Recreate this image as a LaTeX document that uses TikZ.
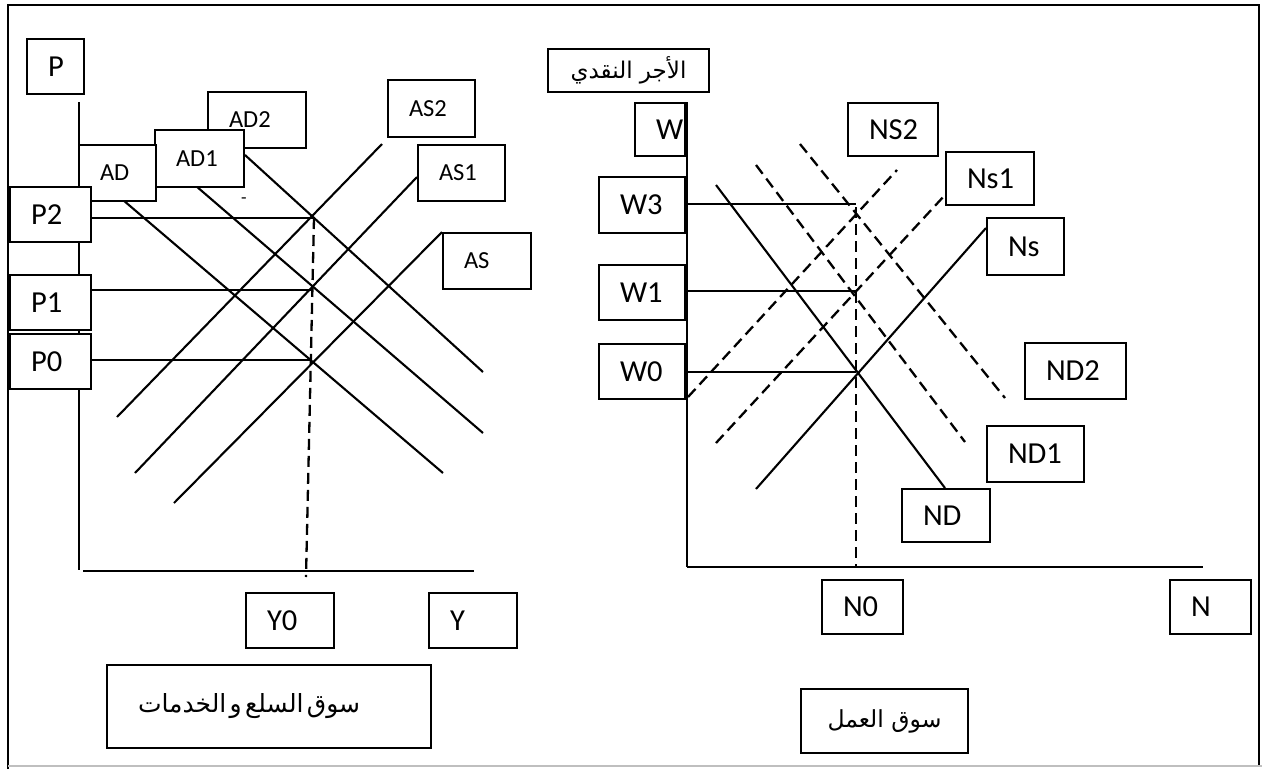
\documentclass[tikz,border=0pt]{standalone}
\usepackage{fontspec}
\setmainfont{Carlito}
\newfontfamily\arabicfont[Script=Arabic]{DejaVu Sans}
\TeXXeTstate=1
\tikzset{
 ln/.style={line width=2.1pt},
 dsh/.style={line width=2.3pt, dash pattern=on 11pt off 6pt},
 frame/.style={line width=1.8pt},
 box/.style={draw, fill=white, line width=2pt, inner xsep=21pt, inner ysep=0pt, align=left, anchor=north west},
 abox/.style={draw, fill=white, line width=2pt, inner ysep=0pt, anchor=north west},
 big/.style={font=\fontsize{30.5}{32}\selectfont},
 sml/.style={font=\fontsize{24.5}{26}\selectfont},
}
\newcommand\tbox[7]{%
 \pgfmathsetmacro\myw{#5-#3}\pgfmathsetmacro\myh{#6-#4}\pgfmathsetmacro\mytw{#5-#3-42}%
 \node[box,#1,minimum width=\myw pt,minimum height=\myh pt,text width=\mytw pt] (#2) at (#3,#4) {#7};}
\begin{document}
\begin{tikzpicture}[x=1pt,y=-1pt]
\useasboundingbox (0,0) rectangle (1262,769);
% outer frame
\coordinate (f1) at (8,769); \coordinate (f2) at (8,5); \coordinate (f3) at (1259,5); \coordinate (f4) at (1259,766);
\coordinate (g1) at (8,766); \coordinate (g2) at (1262,766);
\draw[frame] (f1) -- (f2) -- (f3) -- (f4);
\draw[line width=1.6pt, black!25] (g1) -- (g2);

% ---------- left market ----------
\coordinate (yT) at (79,102); \coordinate (yB) at (79,570);
\coordinate (xL) at (83,571); \coordinate (xR) at (474,571);
\draw[ln] (yT) -- (yB);
\draw[ln] (xL) -- (xR);
% demand
\coordinate (ad0a) at (123,200); \coordinate (ad0b) at (443,473);
\coordinate (ad1a) at (196,186); \coordinate (ad1b) at (483,433);
\coordinate (ad2a) at (245,155); \coordinate (ad2b) at (483,372);
\draw[ln] (ad0a) -- (ad0b);
\draw[ln] (ad1a) -- (ad1b);
\draw[ln] (ad2a) -- (ad2b);
% supply
\coordinate (as0a) at (174,503); \coordinate (as0b) at (442,232);
\coordinate (as1a) at (135,473); \coordinate (as1b) at (417,177);
\coordinate (as2a) at (117,417); \coordinate (as2b) at (382,144);
\draw[ln] (as0a) -- (as0b);
\draw[ln] (as1a) -- (as1b);
\draw[ln] (as2a) -- (as2b);
% price levels
\coordinate (e2) at (314,218); \coordinate (e1) at (313,290); \coordinate (e0) at (312,360);
\coordinate (yd) at (306,577);
\draw[ln] (90,218) -- (e2);
\draw[ln] (90,290) -- (e1);
\draw[ln] (90,360) -- (e0);
\draw[dsh] (e2) -- (yd);
\node[font=\fontsize{18}{18}\selectfont] (dash) at (244,201) {-};

\tbox{big}{P}{26}{38}{83}{93}{P}
\tbox{sml}{AD2}{207}{91}{305}{147}{AD2}
\tbox{sml}{AD1}{154}{129}{243}{186}{AD1}
\tbox{sml}{AD}{78}{144}{155}{200}{AD}
\tbox{big}{P2}{9}{186}{90}{241}{P2}
\tbox{big}{P1}{9}{274}{90}{329}{P1}
\tbox{big}{P0}{9}{333}{90}{388}{P0}
\tbox{sml}{AS2}{387}{79}{474}{136}{AS2}
\tbox{sml}{AS1}{417}{144}{504}{200}{AS1}
\tbox{sml}{AS}{442}{232}{530}{288}{AS}
\tbox{big}{Y0}{245}{592}{333}{647}{Y0}
\tbox{big}{Y}{428}{592}{516}{647}{Y}
\node[abox, minimum width=324pt, minimum height=83pt, text width=262pt, inner xsep=31pt, align=left] (mkG) at (106,664)
 {\arabicfont\fontsize{25}{28}\selectfont\beginR سوق السلع و الخدمات\endR};

% ---------- right market (labour) ----------
\coordinate (wT) at (687,102); \coordinate (wB) at (687,567);
\coordinate (nR) at (1203,567);
\draw[ln] (wT) -- (wB);
\draw[ln] (wB) -- (nR);
\coordinate (nd0a) at (716,185); \coordinate (nd0b) at (945,488);
\coordinate (nd1a) at (756,165); \coordinate (nd1b) at (965,442);
\coordinate (nd2a) at (800,144); \coordinate (nd2b) at (1005,398);
\coordinate (ns0a) at (756,489); \coordinate (ns0b) at (986,228);
\coordinate (ns1a) at (716,443); \coordinate (ns1b) at (945,195);
\coordinate (ns2a) at (688,397); \coordinate (ns2b) at (897,170);
\draw[ln] (nd0a) -- (nd0b);
\draw[dsh] (nd1a) -- (nd1b);
\draw[dsh] (nd2a) -- (nd2b);
\draw[ln] (ns0a) -- (ns0b);
\draw[dsh] (ns1a) -- (ns1b);
\draw[dsh] (ns2a) -- (ns2b);
\coordinate (w3) at (856,204); \coordinate (w1) at (856,291); \coordinate (w0) at (856,372);
\coordinate (nd) at (856,567);
\draw[ln] (687,204) -- (w3);
\draw[ln] (687,291) -- (w1);
\draw[ln] (687,372) -- (w0);
\draw[dsh] (856,207) -- (nd);

\node[abox, minimum width=161pt, minimum height=43pt, align=center] (wage) at (547,48)
 {\arabicfont\fontsize{23}{26}\selectfont\beginR الأجر النقدي\endR};
\tbox{big}{W}{634}{102}{684}{155}{W}
\tbox{big}{W3}{598}{176}{684}{232}{W3}
\tbox{big}{W1}{598}{264}{684}{319}{W1}
\tbox{big}{W0}{598}{343}{684}{398}{W0}
\tbox{big}{NS2}{847}{102}{937}{155}{NS2}
\tbox{big}{Ns1}{945}{151}{1033}{204}{Ns1}
\tbox{big}{Ns}{986}{217}{1063}{274}{Ns}
\tbox{big}{ND2}{1024}{342}{1125}{398}{ND2}
\tbox{big}{ND1}{986}{425}{1083}{481}{ND1}
\tbox{big}{ND}{901}{488}{989}{541}{ND}
\tbox{big}{N0}{821}{579}{902}{633}{N0}
\tbox{big}{N}{1169}{579}{1250}{633}{N}
\node[abox, minimum width=167pt, minimum height=64pt, align=center] (mkL) at (800,688)
 {\arabicfont\fontsize{23.5}{27}\selectfont\beginR سوق العمل\endR};
\end{tikzpicture}
\end{document}
